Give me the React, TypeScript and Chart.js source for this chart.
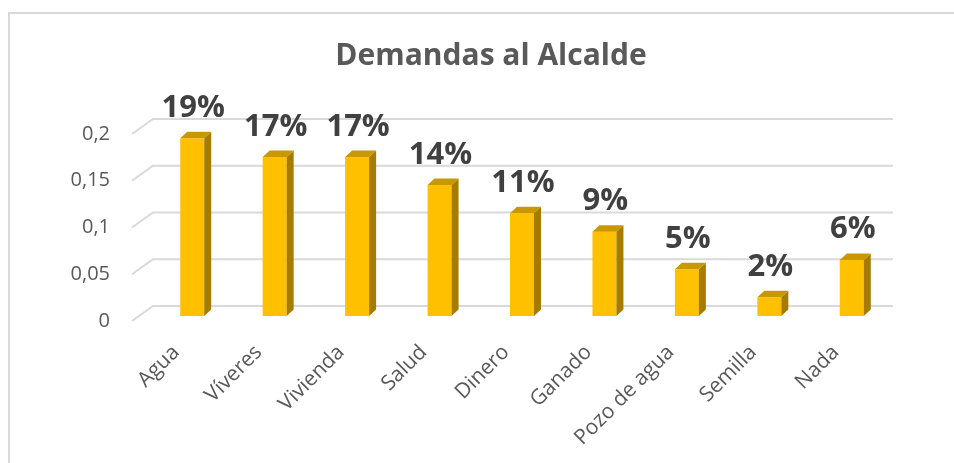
import React, { useEffect, useRef } from "react";
import { Chart, registerables } from "chart.js";

Chart.register(...registerables);

const categories = ["Agua", "Víveres", "Vivienda", "Salud", "Dinero", "Ganado", "Pozo de agua", "Semilla", "Nada"];
const values = [0.19, 0.17, 0.17, 0.14, 0.11, 0.09, 0.05, 0.02, 0.06];
const valueLabels = ["19%", "17%", "17%", "14%", "11%", "9%", "5%", "2%", "6%"];
const yTickValues = [0, 0.05, 0.1, 0.15, 0.2];
const yTickLabels = ["0", "0,05", "0,1", "0,15", "0,2"];
const chartTitle = "Demandas al Alcalde";

const FONT = "'Open Sans', 'DejaVu Sans', sans-serif";
const DEPTH_X = 7;
const DEPTH_Y = 6.5;

const gridPlugin = {
  id: "grid3d",
  beforeDatasetsDraw(chart: any) {
    const { ctx, chartArea, scales } = chart;
    const y = scales.y;
    ctx.save();
    ctx.strokeStyle = "#d9d9d9";
    ctx.lineWidth = 2;
    yTickValues.forEach((v) => {
      const py = y.getPixelForValue(v);
      ctx.beginPath();
      ctx.moveTo(chartArea.left - 19, py + 5);
      ctx.lineTo(chartArea.left + 2, py - 10);
      ctx.lineTo(chartArea.right, py - 10);
      ctx.stroke();
    });
    ctx.restore();
  },
};

const titlePlugin = {
  id: "centredTitle",
  afterDraw(chart: any) {
    const { ctx } = chart;
    ctx.save();
    ctx.fillStyle = "#595959";
    ctx.font = `bold 30px ${FONT}`;
    ctx.textAlign = "center";
    ctx.textBaseline = "middle";
    ctx.fillText(chartTitle, 481, 42);
    ctx.restore();
  },
};

const bar3dPlugin = {
  id: "bar3d",
  afterDatasetsDraw(chart: any) {
    const { ctx } = chart;
    const meta = chart.getDatasetMeta(0);
    ctx.save();
    meta.data.forEach((bar: any, i: number) => {
      const { x, y, base, width } = bar.getProps(["x", "y", "base", "width"], true);
      const l = x - width / 2;
      const r = x + width / 2;
      ctx.fillStyle = "#a67c00";
      ctx.beginPath();
      ctx.moveTo(r, base);
      ctx.lineTo(r + DEPTH_X, base - DEPTH_Y);
      ctx.lineTo(r + DEPTH_X, y - DEPTH_Y);
      ctx.lineTo(r, y);
      ctx.closePath();
      ctx.fill();
      ctx.fillStyle = "#c99700";
      ctx.beginPath();
      ctx.moveTo(l, y);
      ctx.lineTo(l + DEPTH_X, y - DEPTH_Y);
      ctx.lineTo(r + DEPTH_X, y - DEPTH_Y);
      ctx.lineTo(r, y);
      ctx.closePath();
      ctx.fill();
      ctx.fillStyle = "#404040";
      ctx.font = `bold 31px ${FONT}`;
      ctx.textAlign = "center";
      ctx.textBaseline = "alphabetic";
      ctx.fillText(valueLabels[i], x + 1, y - DEPTH_Y - 15);
    });
    ctx.restore();
  },
};

export default function App() {
  const ref = useRef<HTMLCanvasElement | null>(null);

  useEffect(() => {
    document.body.style.overflow = "hidden";
    const canvas = ref.current;
    if (!canvas) return;
    const chart = new Chart(canvas, {
      type: "bar",
      data: {
        labels: categories,
        datasets: [
          {
            data: values,
            backgroundColor: "#ffc000",
            borderWidth: 0,
            categoryPercentage: 1,
            barPercentage: 0.291,
          },
        ],
      },
      options: {
        responsive: false,
        animation: false,
        devicePixelRatio: 1,
        layout: { padding: { left: 10, right: 77, top: 115, bottom: 0 } },
        plugins: {
          legend: { display: false },
          tooltip: { enabled: false },
          title: { display: false },
        },
        scales: {
          x: {
            grid: { display: false, drawTicks: false },
            border: { display: false },
            ticks: {
              autoSkip: false,
              maxRotation: 45,
              minRotation: 45,
              color: "#595959",
              font: { family: FONT, size: 21 },
              padding: 24,
              labelOffset: -16,
            },
            afterFit(scale: any) {
              scale.height = 147;
            },
          },
          y: {
            min: 0,
            max: 0.2,
            grid: { display: false, drawTicks: false },
            border: { display: false },
            ticks: {
              stepSize: 0.05,
              color: "#595959",
              font: { family: FONT, size: 20 },
              padding: 41,
              labelOffset: 5,
              callback: (_v: any, i: number) => yTickLabels[i],
            },
            afterFit(scale: any) {
              scale.width = 131;
            },
          },
        },
      },
      plugins: [gridPlugin, bar3dPlugin, titlePlugin],
    });
    return () => chart.destroy();
  }, []);

  return (
    <div
      style={{
        position: "fixed",
        left: 8,
        top: 12,
        width: 972,
        height: 460,
        boxSizing: "border-box",
        borderTop: "2px solid #d9d9d9",
        borderLeft: "2px solid #d9d9d9",
        background: "#ffffff",
        overflow: "hidden",
      }}
    >
      <canvas ref={ref} width={960} height={449} style={{ display: "block", width: 960, height: 449 }} />
    </div>
  );
}
